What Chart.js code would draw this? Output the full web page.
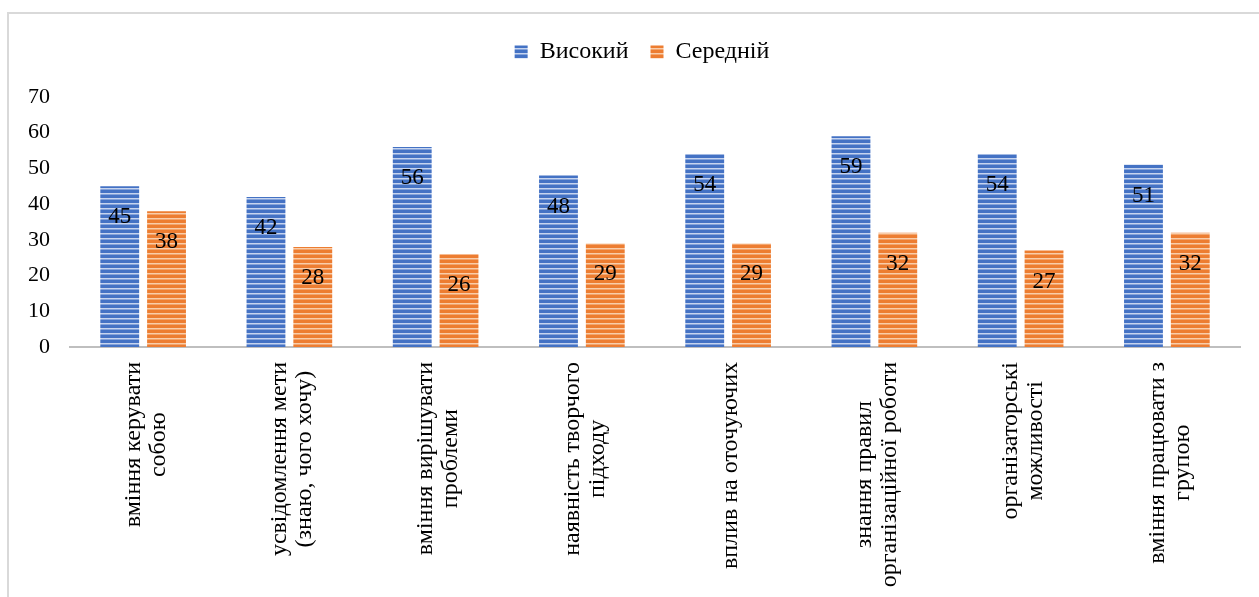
<!DOCTYPE html>
<html>
<head>
<meta charset="utf-8">
<script src="https://cdn.jsdelivr.net/npm/chart.js@4.4.0/dist/chart.umd.min.js"></script>
<style>
  body { margin: 0; background: #fff; }
  #wrap { position: relative; width: 1259px; height: 597px; overflow: hidden; }
  #frame { position: absolute; left: 7px; top: 12px; width: 1300px; height: 700px;
           border-left: 2px solid #d9d9d9; border-top: 2px solid #d9d9d9; }
  #skills { position: absolute; left: 0; top: 0; }
</style>
</head>
<body>
<div id="wrap">
  <div id="frame"></div>
  <canvas id="skills" width="1259" height="597"></canvas>
</div>
<script>
const categories = [
  ['вміння керувати', 'собою'],
  ['усвідомлення мети', '(знаю, чого хочу)'],
  ['вміння вирішувати', 'проблеми'],
  ['наявність творчого', 'підходу'],
  ['вплив на оточуючих'],
  ['знання правил', 'організаційної роботи'],
  ['організаторські', 'можливості'],
  ['вміння працювати з', 'групою']
];
const highValues = [45, 42, 56, 48, 54, 59, 54, 51];
const mediumValues = [38, 28, 26, 29, 29, 32, 27, 32];
const yTicks = [0, 10, 20, 30, 40, 50, 60, 70];

const serif = "'Liberation Serif', 'Times New Roman', serif";

// horizontal striped fill like the office "light horizontal" pattern
function stripes(dark, light) {
  const c = document.createElement('canvas');
  c.width = 8; c.height = 5;
  const g = c.getContext('2d');
  g.fillStyle = dark;
  g.fillRect(0, 0, 8, 5);
  g.fillStyle = light;
  g.fillRect(0, 3, 8, 1.5);
  return g.createPattern(c, 'repeat');
}

const ctx = document.getElementById('skills');

// numbers inside the top of each bar
const valueLabels = {
  id: 'valueLabels',
  afterDatasetsDraw(chart) {
    const c = chart.ctx;
    c.save();
    c.font = '23px ' + serif;
    c.fillStyle = '#000';
    c.textAlign = 'center';
    c.textBaseline = 'middle';
    chart.data.datasets.forEach((ds, i) => {
      chart.getDatasetMeta(i).data.forEach((bar, j) => {
        c.fillText(ds.data[j], bar.x, bar.y + 31);
      });
    });
    c.restore();
  }
};

// vertical category labels, lines centred on each other and hung from the axis
const categoryLabels = {
  id: 'categoryLabels',
  afterDraw(chart) {
    const c = chart.ctx;
    const xs = chart.scales.x;
    const top = xs.top + 15;
    c.save();
    c.font = '24px ' + serif;
    c.fillStyle = '#000';
    c.textAlign = 'center';
    c.textBaseline = 'middle';
    categories.forEach((lines, i) => {
      const x = xs.getPixelForTick(i) + 3;
      const longest = Math.max(...lines.map(l => c.measureText(l).width));
      c.save();
      c.translate(x, top);
      c.rotate(-Math.PI / 2);
      lines.forEach((l, k) => {
        c.fillText(l, -longest / 2, (k - (lines.length - 1) / 2) * 25);
      });
      c.restore();
    });
    c.restore();
  }
};

// extra room under the legend, and nudge it a little to the right
const legendRoom = {
  id: 'legendRoom',
  beforeInit(chart) {
    const fit = chart.legend.fit;
    chart.legend.fit = function () {
      fit.call(this);
      this.height = 79;
    };
  },
  afterLayout(chart) {
    chart.legend.left += 22;
    chart.legend.right += 22;
  }
};

const skillsChart = new Chart(ctx, {
  type: 'bar',
  data: {
    labels: categories,
    datasets: [{
      label: 'Високий',
      data: highValues,
      backgroundColor: stripes('#4472c4', '#c6d4ef'),
      borderWidth: 0
    }, {
      label: 'Середній',
      data: mediumValues,
      backgroundColor: stripes('#ed7d31', '#f9cdaa'),
      borderWidth: 0
    }]
  },
  options: {
    responsive: false,
    animation: false,
    layout: { padding: { top: 18, right: 19, bottom: 10, left: 0 } },
    datasets: { bar: { categoryPercentage: 0.64, barPercentage: 0.83 } },
    plugins: {
      legend: {
        position: 'top',
        labels: {
          font: { family: serif, size: 24 },
          color: '#000',
          boxWidth: 13,
          boxHeight: 13,
          padding: 22
        }
      },
      tooltip: { enabled: false }
    },
    scales: {
      y: {
        min: 0,
        max: 70,
        afterBuildTicks: s => { s.ticks = yTicks.map(v => ({ value: v })); },
        afterFit: s => { s.width = 70; },
        grid: { display: false, drawTicks: false },
        border: { display: false },
        ticks: {
          font: { family: serif, size: 22 },
          color: '#000',
          padding: 20
        }
      },
      x: {
        afterFit: s => { s.height = 240; },
        grid: { display: false, drawTicks: false },
        border: { display: true, color: '#bfbfbf', width: 2 },
        ticks: { display: false }
      }
    }
  },
  plugins: [valueLabels, categoryLabels, legendRoom]
});
</script>
</body>
</html>
